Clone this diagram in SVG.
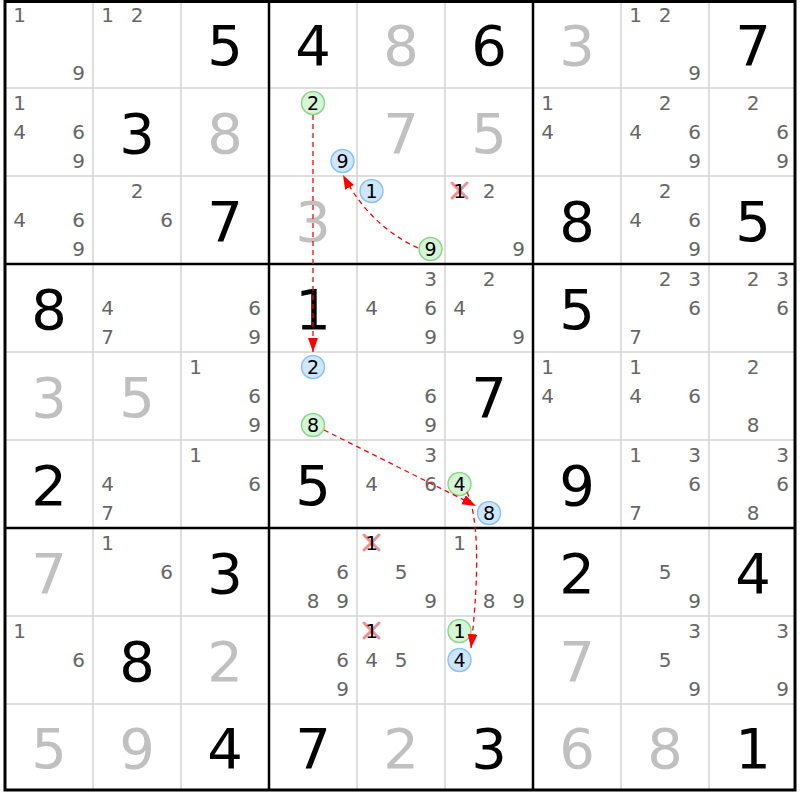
<svg xmlns="http://www.w3.org/2000/svg" width="800" height="800" viewBox="0 0 800 800">
<style>
text{font-family:"DejaVu Sans",Verdana,sans-serif;text-anchor:middle}
.g{font-size:56px;fill:#000}
.s{font-size:56px;fill:#c0c0c0}
.c{font-size:20px;fill:#666}
.k{font-size:19px;fill:#000}
.cg{fill:#d6f5d6;stroke:#8ad88a;stroke-width:1.5}
.cb{fill:#cfe6ff;stroke:#8cc3f5;stroke-width:1.5}
.x{stroke:#f29090;stroke-width:3;stroke-linecap:round}
.thin{stroke:#d4d4d4;stroke-width:1.5}
.thick{stroke:#000;stroke-width:2.5}
.lk{fill:none;stroke:#f00;stroke-width:1.3;stroke-dasharray:5 4}
</style>
<defs>
<marker id="ah" markerUnits="userSpaceOnUse" markerWidth="15" markerHeight="11" refX="14" refY="5" orient="auto">
<path d="M0,0 L14,5 L0,10 z" fill="#f00"/>
</marker>
</defs>
<rect x="0" y="0" width="800" height="800" fill="#fff"/>
<g id="grid">
<path class="thin" d="M93,1.5V790M181,1.5V790M357,1.5V790M445,1.5V790M621,1.5V790M709,1.5V790M5,88H795M5,176H795M5,352H795M5,440H795M5,616H795M5,704H795"/>
<path class="thick" d="M269,1.5V790M533,1.5V790M5,264H795M5,528H795"/>
<rect x="5" y="1.5" width="790" height="788.5" fill="none" stroke="#000" stroke-width="3"/>
</g>
<g id="r0c0" transform="translate(49,44)"><text class="c" x="-29.5" y="-21.7">1</text><text class="c" x="29.5" y="36.3">9</text></g>
<g id="r0c1" transform="translate(137,44)"><text class="c" x="-29.5" y="-21.7">1</text><text class="c" x="0" y="-21.7">2</text></g>
<g id="r0c2" transform="translate(225,44)"><text class="g" y="20.5">5</text></g>
<g id="r0c3" transform="translate(313,44)"><text class="g" y="20.5">4</text></g>
<g id="r0c4" transform="translate(401,44)"><text class="s" y="20.5">8</text></g>
<g id="r0c5" transform="translate(489,44)"><text class="g" y="20.5">6</text></g>
<g id="r0c6" transform="translate(577,44)"><text class="s" y="20.5">3</text></g>
<g id="r0c7" transform="translate(665,44)"><text class="c" x="-29.5" y="-21.7">1</text><text class="c" x="0" y="-21.7">2</text><text class="c" x="29.5" y="36.3">9</text></g>
<g id="r0c8" transform="translate(753,44)"><text class="g" y="20.5">7</text></g>

<g id="r1c0" transform="translate(49,132)"><text class="c" x="-29.5" y="-21.7">1</text><text class="c" x="-29.5" y="7.3">4</text><text class="c" x="29.5" y="7.3">6</text><text class="c" x="29.5" y="36.3">9</text></g>
<g id="r1c1" transform="translate(137,132)"><text class="g" y="20.5">3</text></g>
<g id="r1c2" transform="translate(225,132)"><text class="s" y="20.5">8</text></g>
<g id="r1c3" transform="translate(313,132)"><circle class="cg" cx="0" cy="-29" r="11.5"/><text class="k" x="0" y="-22.2">2</text><circle class="cb" cx="29.5" cy="29" r="11.5"/><text class="k" x="29.5" y="35.8">9</text></g>
<g id="r1c4" transform="translate(401,132)"><text class="s" y="20.5">7</text></g>
<g id="r1c5" transform="translate(489,132)"><text class="s" y="20.5">5</text></g>
<g id="r1c6" transform="translate(577,132)"><text class="c" x="-29.5" y="-21.7">1</text><text class="c" x="-29.5" y="7.3">4</text></g>
<g id="r1c7" transform="translate(665,132)"><text class="c" x="0" y="-21.7">2</text><text class="c" x="-29.5" y="7.3">4</text><text class="c" x="29.5" y="7.3">6</text><text class="c" x="29.5" y="36.3">9</text></g>
<g id="r1c8" transform="translate(753,132)"><text class="c" x="0" y="-21.7">2</text><text class="c" x="29.5" y="7.3">6</text><text class="c" x="29.5" y="36.3">9</text></g>

<g id="r2c0" transform="translate(49,220)"><text class="c" x="-29.5" y="7.3">4</text><text class="c" x="29.5" y="7.3">6</text><text class="c" x="29.5" y="36.3">9</text></g>
<g id="r2c1" transform="translate(137,220)"><text class="c" x="0" y="-21.7">2</text><text class="c" x="29.5" y="7.3">6</text></g>
<g id="r2c2" transform="translate(225,220)"><text class="g" y="20.5">7</text></g>
<g id="r2c3" transform="translate(313,220)"><text class="s" y="20.5">3</text></g>
<g id="r2c4" transform="translate(401,220)"><circle class="cb" cx="-29.5" cy="-29" r="11.5"/><text class="k" x="-29.5" y="-22.2">1</text><circle class="cg" cx="29.5" cy="29" r="11.5"/><text class="k" x="29.5" y="35.8">9</text></g>
<g id="r2c5" transform="translate(489,220)"><path class="x" d="M-37,-37L-22,-22M-22,-37L-37,-22"/><text class="k" x="-29.5" y="-21.7" style="font-size:20px">1</text><text class="c" x="0" y="-21.7">2</text><text class="c" x="29.5" y="36.3">9</text></g>
<g id="r2c6" transform="translate(577,220)"><text class="g" y="20.5">8</text></g>
<g id="r2c7" transform="translate(665,220)"><text class="c" x="0" y="-21.7">2</text><text class="c" x="-29.5" y="7.3">4</text><text class="c" x="29.5" y="7.3">6</text><text class="c" x="29.5" y="36.3">9</text></g>
<g id="r2c8" transform="translate(753,220)"><text class="g" y="20.5">5</text></g>

<g id="r3c0" transform="translate(49,308)"><text class="g" y="20.5">8</text></g>
<g id="r3c1" transform="translate(137,308)"><text class="c" x="-29.5" y="7.3">4</text><text class="c" x="-29.5" y="36.3">7</text></g>
<g id="r3c2" transform="translate(225,308)"><text class="c" x="29.5" y="7.3">6</text><text class="c" x="29.5" y="36.3">9</text></g>
<g id="r3c3" transform="translate(313,308)"><text class="g" y="20.5">1</text></g>
<g id="r3c4" transform="translate(401,308)"><text class="c" x="29.5" y="-21.7">3</text><text class="c" x="-29.5" y="7.3">4</text><text class="c" x="29.5" y="7.3">6</text><text class="c" x="29.5" y="36.3">9</text></g>
<g id="r3c5" transform="translate(489,308)"><text class="c" x="0" y="-21.7">2</text><text class="c" x="-29.5" y="7.3">4</text><text class="c" x="29.5" y="36.3">9</text></g>
<g id="r3c6" transform="translate(577,308)"><text class="g" y="20.5">5</text></g>
<g id="r3c7" transform="translate(665,308)"><text class="c" x="0" y="-21.7">2</text><text class="c" x="29.5" y="-21.7">3</text><text class="c" x="29.5" y="7.3">6</text><text class="c" x="-29.5" y="36.3">7</text></g>
<g id="r3c8" transform="translate(753,308)"><text class="c" x="0" y="-21.7">2</text><text class="c" x="29.5" y="-21.7">3</text><text class="c" x="29.5" y="7.3">6</text></g>

<g id="r4c0" transform="translate(49,396)"><text class="s" y="20.5">3</text></g>
<g id="r4c1" transform="translate(137,396)"><text class="s" y="20.5">5</text></g>
<g id="r4c2" transform="translate(225,396)"><text class="c" x="-29.5" y="-21.7">1</text><text class="c" x="29.5" y="7.3">6</text><text class="c" x="29.5" y="36.3">9</text></g>
<g id="r4c3" transform="translate(313,396)"><circle class="cb" cx="0" cy="-29" r="11.5"/><text class="k" x="0" y="-22.2">2</text><circle class="cg" cx="0" cy="29" r="11.5"/><text class="k" x="0" y="35.8">8</text></g>
<g id="r4c4" transform="translate(401,396)"><text class="c" x="29.5" y="7.3">6</text><text class="c" x="29.5" y="36.3">9</text></g>
<g id="r4c5" transform="translate(489,396)"><text class="g" y="20.5">7</text></g>
<g id="r4c6" transform="translate(577,396)"><text class="c" x="-29.5" y="-21.7">1</text><text class="c" x="-29.5" y="7.3">4</text></g>
<g id="r4c7" transform="translate(665,396)"><text class="c" x="-29.5" y="-21.7">1</text><text class="c" x="-29.5" y="7.3">4</text><text class="c" x="29.5" y="7.3">6</text></g>
<g id="r4c8" transform="translate(753,396)"><text class="c" x="0" y="-21.7">2</text><text class="c" x="0" y="36.3">8</text></g>

<g id="r5c0" transform="translate(49,484)"><text class="g" y="20.5">2</text></g>
<g id="r5c1" transform="translate(137,484)"><text class="c" x="-29.5" y="7.3">4</text><text class="c" x="-29.5" y="36.3">7</text></g>
<g id="r5c2" transform="translate(225,484)"><text class="c" x="-29.5" y="-21.7">1</text><text class="c" x="29.5" y="7.3">6</text></g>
<g id="r5c3" transform="translate(313,484)"><text class="g" y="20.5">5</text></g>
<g id="r5c4" transform="translate(401,484)"><text class="c" x="29.5" y="-21.7">3</text><text class="c" x="-29.5" y="7.3">4</text><text class="c" x="29.5" y="7.3">6</text></g>
<g id="r5c5" transform="translate(489,484)"><circle class="cg" cx="-29.5" cy="0" r="11.5"/><text class="k" x="-29.5" y="6.8">4</text><circle class="cb" cx="0" cy="29" r="11.5"/><text class="k" x="0" y="35.8">8</text></g>
<g id="r5c6" transform="translate(577,484)"><text class="g" y="20.5">9</text></g>
<g id="r5c7" transform="translate(665,484)"><text class="c" x="-29.5" y="-21.7">1</text><text class="c" x="29.5" y="-21.7">3</text><text class="c" x="29.5" y="7.3">6</text><text class="c" x="-29.5" y="36.3">7</text></g>
<g id="r5c8" transform="translate(753,484)"><text class="c" x="29.5" y="-21.7">3</text><text class="c" x="29.5" y="7.3">6</text><text class="c" x="0" y="36.3">8</text></g>

<g id="r6c0" transform="translate(49,572)"><text class="s" y="20.5">7</text></g>
<g id="r6c1" transform="translate(137,572)"><text class="c" x="-29.5" y="-21.7">1</text><text class="c" x="29.5" y="7.3">6</text></g>
<g id="r6c2" transform="translate(225,572)"><text class="g" y="20.5">3</text></g>
<g id="r6c3" transform="translate(313,572)"><text class="c" x="29.5" y="7.3">6</text><text class="c" x="0" y="36.3">8</text><text class="c" x="29.5" y="36.3">9</text></g>
<g id="r6c4" transform="translate(401,572)"><path class="x" d="M-37,-37L-22,-22M-22,-37L-37,-22"/><text class="k" x="-29.5" y="-21.7" style="font-size:20px">1</text><text class="c" x="0" y="7.3">5</text><text class="c" x="29.5" y="36.3">9</text></g>
<g id="r6c5" transform="translate(489,572)"><text class="c" x="-29.5" y="-21.7">1</text><text class="c" x="0" y="36.3">8</text><text class="c" x="29.5" y="36.3">9</text></g>
<g id="r6c6" transform="translate(577,572)"><text class="g" y="20.5">2</text></g>
<g id="r6c7" transform="translate(665,572)"><text class="c" x="0" y="7.3">5</text><text class="c" x="29.5" y="36.3">9</text></g>
<g id="r6c8" transform="translate(753,572)"><text class="g" y="20.5">4</text></g>

<g id="r7c0" transform="translate(49,660)"><text class="c" x="-29.5" y="-21.7">1</text><text class="c" x="29.5" y="7.3">6</text></g>
<g id="r7c1" transform="translate(137,660)"><text class="g" y="20.5">8</text></g>
<g id="r7c2" transform="translate(225,660)"><text class="s" y="20.5">2</text></g>
<g id="r7c3" transform="translate(313,660)"><text class="c" x="29.5" y="7.3">6</text><text class="c" x="29.5" y="36.3">9</text></g>
<g id="r7c4" transform="translate(401,660)"><path class="x" d="M-37,-37L-22,-22M-22,-37L-37,-22"/><text class="k" x="-29.5" y="-21.7" style="font-size:20px">1</text><text class="c" x="-29.5" y="7.3">4</text><text class="c" x="0" y="7.3">5</text></g>
<g id="r7c5" transform="translate(489,660)"><circle class="cg" cx="-29.5" cy="-29" r="11.5"/><text class="k" x="-29.5" y="-22.2">1</text><circle class="cb" cx="-29.5" cy="0" r="11.5"/><text class="k" x="-29.5" y="6.8">4</text></g>
<g id="r7c6" transform="translate(577,660)"><text class="s" y="20.5">7</text></g>
<g id="r7c7" transform="translate(665,660)"><text class="c" x="29.5" y="-21.7">3</text><text class="c" x="0" y="7.3">5</text><text class="c" x="29.5" y="36.3">9</text></g>
<g id="r7c8" transform="translate(753,660)"><text class="c" x="29.5" y="-21.7">3</text><text class="c" x="29.5" y="36.3">9</text></g>

<g id="r8c0" transform="translate(49,747)"><text class="s" y="20.5">5</text></g>
<g id="r8c1" transform="translate(137,747)"><text class="s" y="20.5">9</text></g>
<g id="r8c2" transform="translate(225,747)"><text class="g" y="20.5">4</text></g>
<g id="r8c3" transform="translate(313,747)"><text class="g" y="20.5">7</text></g>
<g id="r8c4" transform="translate(401,747)"><text class="s" y="20.5">2</text></g>
<g id="r8c5" transform="translate(489,747)"><text class="g" y="20.5">3</text></g>
<g id="r8c6" transform="translate(577,747)"><text class="s" y="20.5">6</text></g>
<g id="r8c7" transform="translate(665,747)"><text class="s" y="20.5">8</text></g>
<g id="r8c8" transform="translate(753,747)"><text class="g" y="20.5">1</text></g>

<g id="links">
<path class="lk" d="M313,115 L313,352" marker-end="url(#ah)"/>
<path class="lk" d="M418,248 Q370,226 343,175" marker-end="url(#ah)"/>
<path class="lk" d="M324,430 L476,506" marker-end="url(#ah)"/>
<path class="lk" d="M467,492 Q484,530 471,648" marker-end="url(#ah)"/>
</g>
</svg>
